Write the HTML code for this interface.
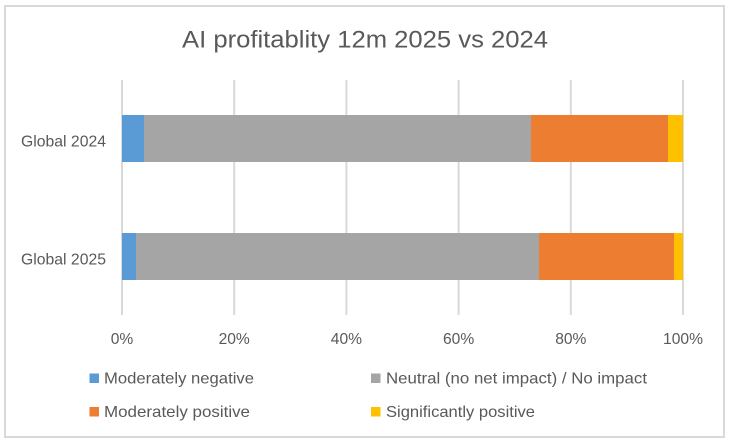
<!DOCTYPE html>
<html>
<head>
<meta charset="utf-8">
<style>
  html, body { margin: 0; padding: 0; background: #ffffff; }
  svg { display: block; }
  text { font-family: "Liberation Sans", Arial, sans-serif; fill: #595959; }
</style>
</head>
<body>
<svg width="732" height="444" viewBox="0 0 732 444" xmlns="http://www.w3.org/2000/svg">
  <rect x="0" y="0" width="732" height="444" fill="#ffffff"/>
  <rect x="5" y="6" width="719" height="431" fill="#ffffff" stroke="#d9d9d9" stroke-width="2"/>

  <!-- Title -->
  <text x="182" y="47.5" font-size="24" textLength="366" lengthAdjust="spacingAndGlyphs">AI profitablity 12m 2025 vs 2024</text>

  <!-- Gridlines -->
  <g stroke="#d9d9d9" stroke-width="2">
    <line x1="122" y1="80" x2="122" y2="315"/>
    <line x1="234.2" y1="80" x2="234.2" y2="315"/>
    <line x1="346.4" y1="80" x2="346.4" y2="315"/>
    <line x1="458.6" y1="80" x2="458.6" y2="315"/>
    <line x1="570.8" y1="80" x2="570.8" y2="315"/>
    <line x1="683" y1="80" x2="683" y2="315"/>
  </g>

  <!-- Bars: Global 2024 -->
  <rect x="122" y="115" width="22" height="47" fill="#5b9bd5"/>
  <rect x="144" y="115" width="387" height="47" fill="#a5a5a5"/>
  <rect x="531" y="115" width="137" height="47" fill="#ed7d31"/>
  <rect x="668" y="115" width="15" height="47" fill="#ffc000"/>

  <!-- Bars: Global 2025 -->
  <rect x="122" y="233" width="14" height="47" fill="#5b9bd5"/>
  <rect x="136" y="233" width="403" height="47" fill="#a5a5a5"/>
  <rect x="539" y="233" width="135" height="47" fill="#ed7d31"/>
  <rect x="674" y="233" width="9" height="47" fill="#ffc000"/>

  <!-- Category labels -->
  <text x="21" y="146.5" font-size="15.6" textLength="85" lengthAdjust="spacingAndGlyphs">Global 2024</text>
  <text x="21" y="264.5" font-size="15.6" textLength="85" lengthAdjust="spacingAndGlyphs">Global 2025</text>

  <!-- Tick labels -->
  <g font-size="15.6" text-anchor="middle">
    <text x="122" y="344">0%</text>
    <text x="234.2" y="344">20%</text>
    <text x="346.4" y="344">40%</text>
    <text x="458.6" y="344">60%</text>
    <text x="570.8" y="344">80%</text>
    <text x="683" y="344">100%</text>
  </g>

  <!-- Legend -->
  <rect x="89.5" y="373.5" width="9.5" height="9.5" fill="#5b9bd5"/>
  <text x="104" y="383.5" font-size="15.6" textLength="150" lengthAdjust="spacingAndGlyphs">Moderately negative</text>

  <rect x="371" y="373.5" width="9.5" height="9.5" fill="#a5a5a5"/>
  <text x="386" y="383.5" font-size="15.6" textLength="261" lengthAdjust="spacingAndGlyphs">Neutral (no net impact) / No impact</text>

  <rect x="89.5" y="407" width="9.5" height="9.5" fill="#ed7d31"/>
  <text x="104" y="417" font-size="15.6" textLength="146" lengthAdjust="spacingAndGlyphs">Moderately positive</text>

  <rect x="371" y="407" width="9.5" height="9.5" fill="#ffc000"/>
  <text x="386" y="417" font-size="15.6" textLength="149" lengthAdjust="spacingAndGlyphs">Significantly positive</text>
</svg>
</body>
</html>
